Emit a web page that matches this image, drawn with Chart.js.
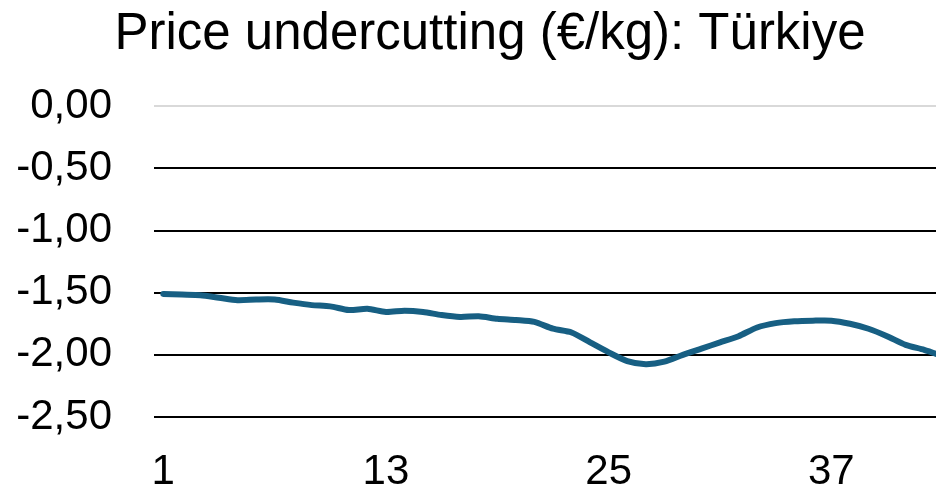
<!DOCTYPE html>
<html>
<head>
<meta charset="utf-8">
<script src="https://cdn.jsdelivr.net/npm/chart.js@4"></script>
<style>
  html, body { margin: 0; padding: 0; background: #fff; overflow: hidden; }
  #wrap { width: 980px; height: 490px; }
</style>
</head>
<body>
<div id="wrap"><canvas id="priceChart"></canvas></div>
<script>
// week numbers
const weeks = ['1','2','3','4','5','6','7','8','9','10','11','12','13','14','15','16','17','18','19','20','21',
               '22','23','24','25','26','27','28','29','30','31','32','33','34','35','36','37','38','39','40','41','42','43'];
// price undercutting, €/kg
const undercutting = [-1.51, -1.515, -1.52, -1.54, -1.56, -1.555, -1.555, -1.58, -1.60, -1.61, -1.64,
                      -1.63, -1.655, -1.645, -1.655, -1.68, -1.695, -1.69, -1.71, -1.72, -1.735,
                      -1.79, -1.82, -1.90, -1.98, -2.05, -2.075, -2.055, -2.00, -1.95, -1.90,
                      -1.85, -1.78, -1.745, -1.73, -1.725, -1.725, -1.75, -1.79, -1.85, -1.92,
                      -1.96, -2.01];
const yTicks = [0, -0.5, -1, -1.5, -2, -2.5];
const yTickLabels = ['0,00', '-0,50', '-1,00', '-1,50', '-2,00', '-2,50'];
const xTickLabels = ['1', '13', '25', '37'];

const font = "'Liberation Sans', Arial, sans-serif";

const ctx = document.getElementById('priceChart').getContext('2d');
new Chart(ctx, {
    type: 'line',
    data: {
        labels: weeks,
        datasets: [{
            data: undercutting,
            borderColor: '#175f83',
            borderWidth: 6,
            pointRadius: 0,
            tension: 0.25,
            borderCapStyle: 'round',
            borderJoinStyle: 'round',
            fill: false
        }]
    },
    options: {
        responsive: true,
        maintainAspectRatio: false,
        animation: false,
        layout: { padding: 0 },
        plugins: {
            legend: { display: false },
            tooltip: { enabled: false },
            title: {
                display: true,
                text: 'Price undercutting (€/kg): Türkiye',
                color: '#000',
                font: { family: font, size: 51, weight: 'normal' },
                padding: { top: 4, bottom: 41 }
            }
        },
        scales: {
            x: {
                offset: true,
                afterFit: function(scale) {
                    scale.height = 73;
                },
                grid: { display: false, drawTicks: false },
                border: { display: false },
                ticks: {
                    autoSkip: false,
                    maxRotation: 0,
                    color: '#000',
                    padding: 30,
                    font: { family: font, size: 42 },
                    callback: function(value, index) {
                        const lab = this.getLabelForValue(value);
                        return xTickLabels.includes(lab) ? lab : '';
                    }
                }
            },
            y: {
                min: -2.5,
                max: 0,
                afterBuildTicks: function(scale) {
                    scale.ticks = yTicks.map(v => ({ value: v }));
                },
                afterFit: function(scale) {
                    scale.width = 154;
                },
                grid: {
                    drawTicks: false,
                    lineWidth: 2,
                    color: function(c) {
                        return c.tick && c.tick.value === 0 ? '#d9d9d9' : '#000';
                    }
                },
                border: { display: false },
                ticks: {
                    color: '#000',
                    padding: 42,
                    font: { family: font, size: 42 },
                    callback: function(value) {
                        const i = yTicks.indexOf(value);
                        return i >= 0 ? yTickLabels[i] : '';
                    }
                }
            },
            // empty right-hand spacer so the title sits centred on the full frame
            yRight: {
                position: 'right',
                min: -2.5,
                max: 0,
                afterFit: function(scale) {
                    scale.width = 28;
                },
                grid: { display: false, drawTicks: false },
                border: { display: false },
                ticks: { display: false }
            }
        }
    }
});
</script>
</body>
</html>
